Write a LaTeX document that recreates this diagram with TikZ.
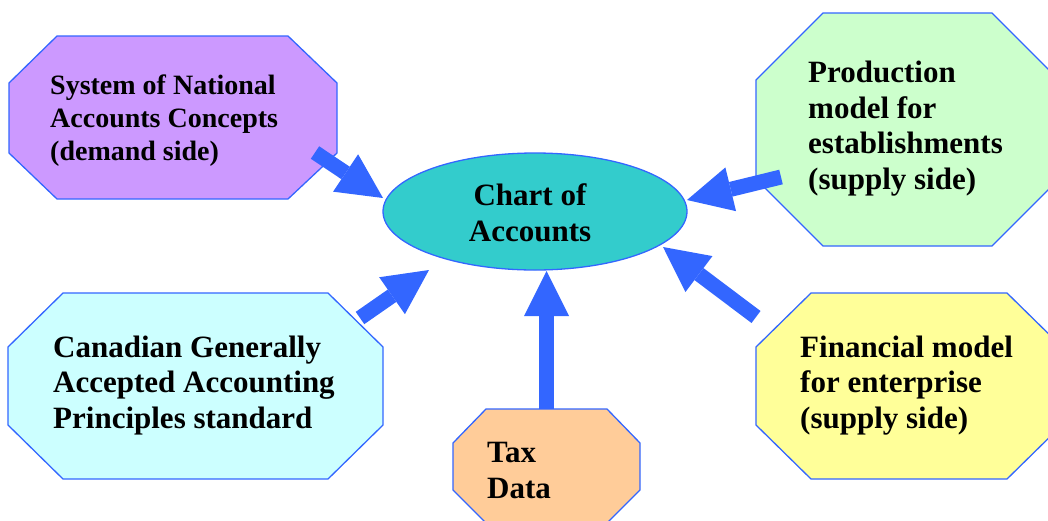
\documentclass[tikz,border=0pt]{standalone}
\usepackage{fontspec}
\setmainfont{Liberation Serif}
\usetikzlibrary{arrows.meta,shapes.geometric}
\definecolor{edgeblue}{RGB}{51,102,255}
\definecolor{snafill}{RGB}{204,153,255}
\definecolor{prodfill}{RGB}{204,255,204}
\definecolor{gaapfill}{RGB}{204,255,255}
\definecolor{finfill}{RGB}{255,255,153}
\definecolor{taxfill}{RGB}{255,204,153}
\definecolor{coafill}{RGB}{51,204,204}
\begin{document}
\begin{tikzpicture}[x=1pt,y=-1pt,
  box/.style={draw=edgeblue,line width=1.3pt,line join=miter},
  boxtext/.style={inner sep=0pt,align=left,anchor=base west,
    font=\fontsize{31}{35.5}\selectfont\bfseries},
  feed/.style={draw=edgeblue,line width=15pt,
    -{Triangle[width=45pt,length=45pt,line width=0pt]}}]
\useasboundingbox (0,0) rectangle (1048,520);
\clip (0,0) rectangle (1048,520);

% source boxes (octagons)
\draw[box,fill=snafill] (57,36) -- (288,36) -- (337,83) -- (337,153) -- (288,199) -- (57,199) -- (9,153) -- (9,83) -- cycle;
\draw[box,fill=prodfill] (823,13) -- (992,13) -- (1059,80) -- (1059,179) -- (992,246) -- (823,246) -- (756,179) -- (756,80) -- cycle;
\draw[box,fill=gaapfill] (63,293) -- (328,293) -- (383,347) -- (383,425) -- (328,479) -- (63,479) -- (8,425) -- (8,347) -- cycle;
\draw[box,fill=finfill] (811,293) -- (1007,293) -- (1062,347) -- (1062,425) -- (1007,479) -- (811,479) -- (756,425) -- (756,347) -- cycle;
\draw[box,fill=taxfill] (486,409) -- (607,409) -- (640,443) -- (640,490) -- (607,523) -- (486,523) -- (453,490) -- (453,443) -- cycle;

% labels of the source boxes
\node[boxtext,font=\fontsize{28}{33}\selectfont\bfseries] (sna) at (50,160) {System of National\\Accounts Concepts\\(demand side)};
\node[boxtext] (prod) at (808,189) {Production\\model for\\establishments\\(supply side)};
\node[boxtext] (gaap) at (53,428) {Canadian Generally\\Accepted Accounting\\Principles standard};
\node[boxtext] (fin) at (800,428) {Financial model\\for enterprise\\(supply side)};
\node[boxtext] (tax) at (487,498) {Tax\\Data};

% central chart of accounts
\node[ellipse,draw=edgeblue,fill=coafill,line width=1.3pt,
  minimum width=304pt,minimum height=117pt,inner sep=0pt] (coa) at (535,211.5) {};
\node[inner sep=0pt,align=center,anchor=base,
  font=\fontsize{31}{35.5}\selectfont\bfseries] (coaText) at (530,241) {Chart of\\Accounts};

% arrow ends
\coordinate (snaOut) at (315,152.5);
\coordinate (coaSna) at (383,198);
\coordinate (gaapOut) at (360,318);
\coordinate (coaGaap) at (429,270);
\coordinate (taxOut) at (546.5,409);
\coordinate (coaTax) at (546.5,271);
\coordinate (finOut) at (756,317);
\coordinate (coaFin) at (663,247);
\coordinate (prodOut) at (781,177);
\coordinate (coaProd) at (687,200);

% flows into the chart of accounts
\draw[feed] (snaOut) -- (coaSna);
\draw[feed] (gaapOut) -- (coaGaap);
\draw[feed] (taxOut) -- (coaTax);
\draw[feed] (finOut) -- (coaFin);
\draw[feed] (prodOut) -- (coaProd);
\end{tikzpicture}
\end{document}
